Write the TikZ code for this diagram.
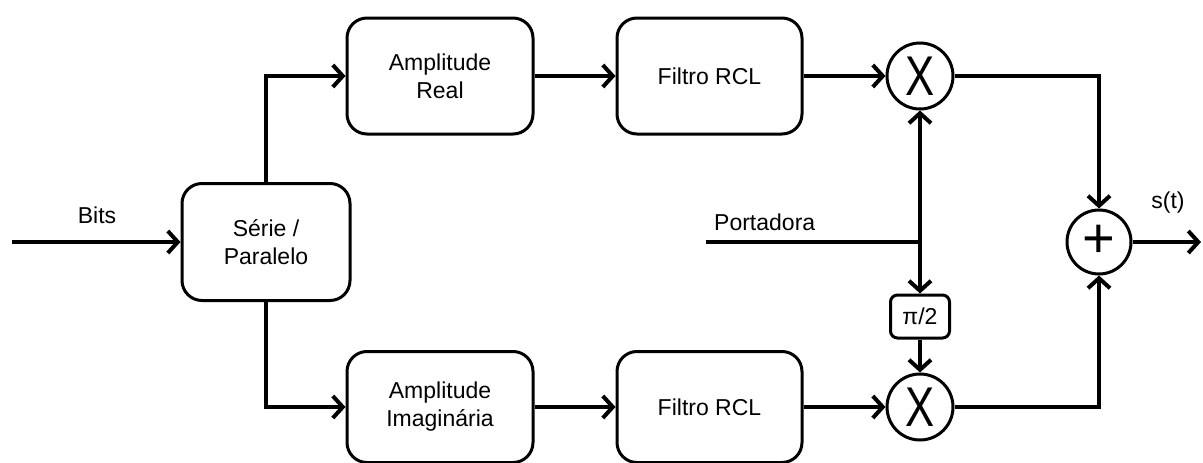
\documentclass[tikz,border=0pt]{standalone}
\usepackage{fontspec}
\usepackage{graphicx}
\setmainfont{Liberation Sans}
\usetikzlibrary{arrows.meta}

\tikzset{
  block/.style={draw, line width=3pt, rounded corners=20pt, align=center,
    font=\fontsize{23}{28}\selectfont, inner sep=0pt},
  mixer/.style={draw, circle, line width=3pt, minimum size=66pt, inner sep=0pt},
  phasebox/.style={draw, line width=3pt, rounded corners=7pt, minimum width=59pt,
    minimum height=43pt, inner sep=0pt, font=\fontsize{23}{28}\selectfont},
  wire/.style={line width=4pt},
  arr/.style={wire, -{Straight Barb[length=10pt,width=22pt]}},
  lbl/.style={font=\fontsize{23}{28}\selectfont, inner sep=0pt},
}

\begin{document}
\begin{tikzpicture}[x=1pt,y=-1pt]
\useasboundingbox (0,0) rectangle (1203,463);

% processing blocks
\node[block, minimum width=168pt, minimum height=117pt] (sp) at (266,242) {Série /\\Paralelo};
\node[block, minimum width=186pt, minimum height=116pt] (ar) at (440,76) {Amplitude\\Real};
\node[block, minimum width=185pt, minimum height=116pt] (fr1) at (709.5,76) {Filtro RCL};
\node[block, minimum width=186pt, minimum height=111pt] (ai) at (440,407) {Amplitude\\Imaginária};
\node[block, minimum width=185pt, minimum height=111pt] (fr2) at (709.5,407) {Filtro RCL};

% mixers, phase shifter and adder
\node[mixer] (m1) at (920,76) {\fontsize{56}{56}\selectfont\scalebox{0.78}[1]{X}};
\node[mixer] (m2) at (920,407) {\fontsize{56}{56}\selectfont\scalebox{0.78}[1]{X}};
\node[phasebox] (ph) at (920,316.5) {π/2};
\node[mixer, minimum size=64pt] (sum) at (1099,242) {\fontsize{56}{56}\selectfont\raisebox{2pt}{+}};

% free ends
\coordinate (in) at (12,242);
\coordinate (out) at (1201,242);
\coordinate (pt) at (706,242);
\coordinate (jn) at (920,242);

% labels
\node[lbl] (bits) at (97,215) {Bits};
\node[lbl, anchor=west] (port) at (714,222) {Portadora};
\node[lbl] (st) at (1168,203) {s(t)};

% connectors
\draw[arr] (in) -- (sp.west);
\draw[arr] (sp.north) |- (ar.west);
\draw[arr] (sp.south) |- (ai.west);
\draw[arr] (ar.east) -- (fr1.west);
\draw[arr] (ai.east) -- (fr2.west);
\draw[arr] (fr1.east) -- (m1.west);
\draw[arr] (fr2.east) -- (m2.west);
\draw[wire] (pt) -- (jn);
\draw[arr] (jn) -- (m1.south);
\draw[arr] (jn) -- (ph.north);
\draw[arr] (ph.south) -- (m2.north);
\draw[arr] (m1.east) -| (sum.north);
\draw[arr] (m2.east) -| (sum.south);
\draw[arr] (sum.east) -- (out);
\end{tikzpicture}
\end{document}
